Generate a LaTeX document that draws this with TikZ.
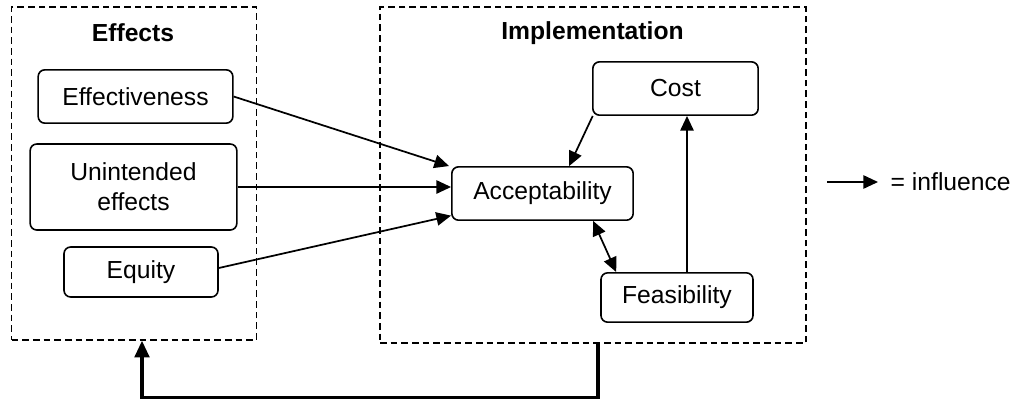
\documentclass[tikz,border=0pt]{standalone}
\usepackage{fontspec}
\setmainfont{Liberation Sans}
\usetikzlibrary{arrows.meta,calc}
\begin{document}
\begin{tikzpicture}[x=0.75pt,y=-0.75pt,
  every node/.style={font=\fontsize{18.5}{22.5}\selectfont},
  group/.style={draw,dash pattern=on 5pt off 3pt,line width=1.1pt,inner sep=0pt},
  factor/.style={draw,rounded corners=5pt,line width=1.2pt,inner sep=0pt,align=center},
  title/.style={font=\fontsize{18.5}{22.5}\selectfont\bfseries},
  infl/.style={line width=1.3pt,-{Triangle[length=11pt,width=10pt]}},
  mutual/.style={line width=1.3pt,{Triangle[length=11pt,width=10pt]}-{Triangle[length=11pt,width=10pt]}},
  feedback/.style={line width=2.4pt,-{Triangle[length=12.5pt,width=11pt]}}]
\useasboundingbox (0,0) rectangle (1027,400);

% dashed group frames
\node[group,minimum width=183.75pt,minimum height=249.75pt] (effbox) at (134,173.5) {};
\node[group,minimum width=319.5pt,minimum height=252pt] (impl) at (593,175) {};
\node[title] (efftitle) at (133,33) {Effects};
\node[title] (impltitle) at (592.5,33) {Implementation};

% factors
\node[factor,minimum width=146pt,minimum height=40pt] (eff) at (135.5,96.5) {Effectiveness};
\node[factor,minimum width=155pt,minimum height=64.5pt] (unint) at (133.5,187) {Unintended\\effects};
\node[factor,minimum width=115.5pt,minimum height=37.5pt] (equity) at (141,272) {Equity};
\node[factor,minimum width=124pt,minimum height=40pt] (cost) at (675.5,88.5) {Cost};
\node[factor,minimum width=136pt,minimum height=40pt] (acc) at (542.5,193.5) {Acceptability};
\node[factor,minimum width=114pt,minimum height=37pt] (feas) at (677,297.5) {Feasibility};

% influences
\draw[infl] (eff.east) -- ([xshift=-1.5pt]acc.north west);
\draw[infl] (unint.east) -- (unint.east -| acc.west);
\draw[infl] ([yshift=3pt]equity.east) -- ([yshift=4pt]acc.south west);
\draw[infl] ([xshift=0.5pt]cost.south west) -- ([xshift=20pt]acc.north);
\draw[mutual] ([xshift=38pt]acc.south) -- ([xshift=12pt]feas.north west);
\draw[infl] ([xshift=7.5pt]feas.north) -- ([xshift=7.5pt]feas.north |- cost.south);

% feedback from implementation to effects
\coordinate (fbstart) at ([xshift=3.75pt]impl.south);
\coordinate (fbend) at ([xshift=6pt]effbox.south);
\draw[feedback] (fbstart) -- ($(fbstart)+(0,54)$) -| (fbend);

% legend
\coordinate (legstart) at (827,182);
\node[anchor=west] (legtext) at (886,182) {= influence};
\draw[infl] (legstart) -- ([xshift=-6pt]legtext.west);
\end{tikzpicture}
\end{document}
